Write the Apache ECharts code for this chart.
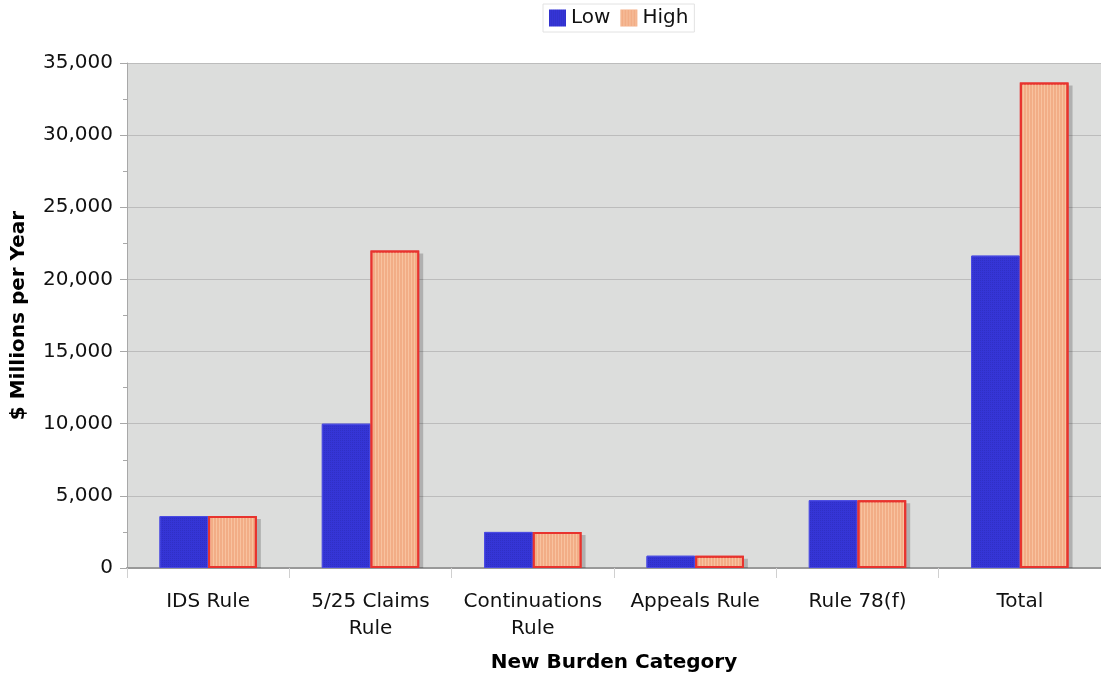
<!DOCTYPE html>
<html>
<head>
<meta charset="utf-8">
<script src="https://cdn.jsdelivr.net/npm/echarts@6/dist/echarts.min.js"></script>
<style>
  html, body { margin: 0; padding: 0; background: #ffffff; }
  #chart { width: 1101px; height: 677px; }
</style>
</head>
<body>
<div id="chart"></div>
<script>
// Burden categories and annual cost estimates ($ millions per year)
const categories = ['IDS Rule', '5/25 Claims\nRule', 'Continuations\nRule', 'Appeals Rule', 'Rule 78(f)', 'Total'];
const lowValues  = [3600, 10000, 2500, 850, 4700, 21650];
const highValues = [3600, 22000, 2500, 850, 4700, 33650];

const FONT = 'DejaVu Sans, Verdana, sans-serif';
const CATEGORY_GAP = 0.4;   // fraction of each band left empty

const LOW_DECAL = {
  symbol: 'rect',
  symbolSize: 1,
  color: 'rgba(20,20,120,0.18)',
  dashArrayX: [1, 1],
  dashArrayY: [1, 1]
};
const HIGH_DECAL = {
  symbol: 'rect',
  symbolSize: 1,
  color: 'rgba(255,220,190,0.45)',
  dashArrayX: [1, 2],
  dashArrayY: [4, 0]
};

const chart = echarts.init(document.getElementById('chart'), null, { renderer: 'canvas' });

// Drop shadow behind the right-hand (High) bar of each pair
function renderShadow(params, api) {
  const idx = api.value(0);
  const val = api.value(1);
  const base = api.coord([idx, 0]);
  const top = api.coord([idx, val]);
  const band = api.size([1, 0])[0];
  const barW = band * (1 - CATEGORY_GAP) / 2;
  return {
    type: 'rect',
    shape: { x: base[0] + 4, y: top[1] + 3, width: barW, height: base[1] - top[1] - 3 },
    style: { fill: 'rgba(0,0,0,0.2)' },
    silent: true
  };
}

chart.setOption({
  animation: false,
  backgroundColor: '#ffffff',
  textStyle: { fontFamily: FONT },
  legend: {
    top: 4,
    left: 543,
    icon: 'rect',
    itemWidth: 17,
    itemHeight: 17,
    itemGap: 10,
    padding: [4, 6, 4, 6],
    backgroundColor: '#ffffff',
    borderColor: '#e2e2e2',
    borderWidth: 1,
    textStyle: { fontFamily: FONT, fontSize: 20, color: '#111' },
    data: [
      { name: 'Low', itemStyle: { color: '#3535d6', borderWidth: 0, decal: LOW_DECAL } },
      { name: 'High', itemStyle: { color: '#f2ad86', borderWidth: 0, decal: HIGH_DECAL } }
    ]
  },
  grid: {
    left: 127,
    right: 0,
    top: 63,
    bottom: 109,
    outerBoundsMode: 'none',
    containLabel: false,
    show: true,
    backgroundColor: '#dcdddc',
    borderWidth: 0
  },
  xAxis: {
    type: 'category',
    data: categories,
    name: 'New Burden Category',
    nameLocation: 'middle',
    nameGap: 85,
    nameTextStyle: { fontFamily: FONT, fontSize: 20, fontWeight: 'bold', color: '#000' },
    axisLine: { show: true, lineStyle: { color: '#999999', width: 2 } },
    axisTick: { show: true, alignWithLabel: false, length: 10, lineStyle: { color: '#d0d0d0', width: 1 } },
    axisLabel: { fontFamily: FONT, fontSize: 20, color: '#111', margin: 20, lineHeight: 27, interval: 0 },
    splitLine: { show: false }
  },
  yAxis: {
    type: 'value',
    min: 0,
    max: 35000,
    interval: 5000,
    name: '$ Millions per Year',
    nameLocation: 'middle',
    nameGap: 98,
    nameRotate: 90,
    nameTextStyle: { fontFamily: FONT, fontSize: 20, fontWeight: 'bold', color: '#000' },
    axisLine: { show: true, lineStyle: { color: '#a8a8a8', width: 1 } },
    axisTick: { show: true, length: 7, lineStyle: { color: '#a8a8a8' } },
    minorTick: { show: true, splitNumber: 2, length: 4, lineStyle: { color: '#a8a8a8' } },
    axisLabel: {
      fontFamily: FONT, fontSize: 20, color: '#111', margin: 14,
      formatter: v => v.toLocaleString('en-US')
    },
    splitLine: { show: true, lineStyle: { color: '#bcbcbc', width: 1 } }
  },
  series: [
    {
      name: 'HighShadow',
      type: 'custom',
      renderItem: renderShadow,
      data: highValues.map((v, i) => [i, v]),
      encode: { x: 0, y: 1 },
      z: 1,
      silent: true,
      tooltip: { show: false }
    },
    {
      name: 'Low',
      type: 'bar',
      data: lowValues,
      barGap: '0%',
      barCategoryGap: (CATEGORY_GAP * 100) + '%',
      z: 2,
      itemStyle: { color: '#3535d6', borderColor: '#4b4be2', borderWidth: 1, decal: LOW_DECAL }
    },
    {
      name: 'High',
      type: 'bar',
      data: highValues,
      barGap: '0%',
      barCategoryGap: (CATEGORY_GAP * 100) + '%',
      z: 2,
      itemStyle: { color: '#f2ad86', borderColor: '#e8332e', borderWidth: 2, decal: HIGH_DECAL }
    }
  ]
});
</script>
</body>
</html>
